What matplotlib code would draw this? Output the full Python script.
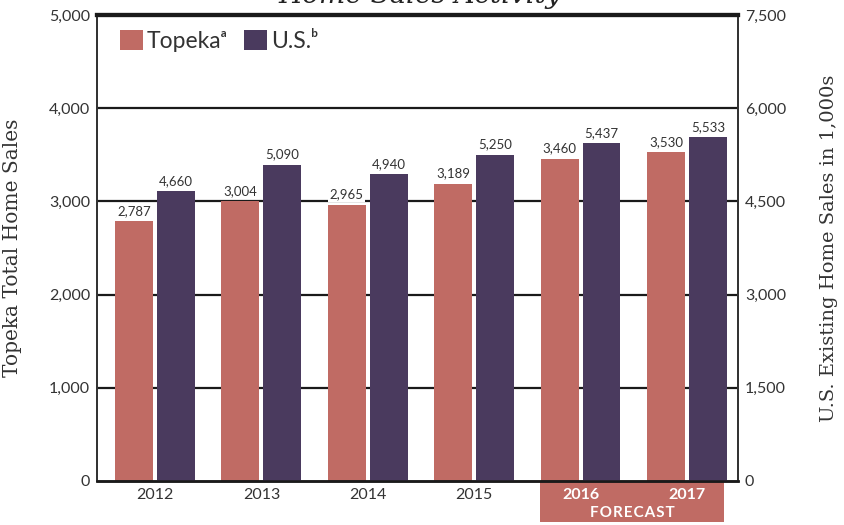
import matplotlib
matplotlib.use("Agg")
import matplotlib.pyplot as plt
from matplotlib.patches import Rectangle, Patch
import numpy as np

years = ["2012", "2013", "2014", "2015", "2016", "2017"]
topeka = [2787, 3004, 2965, 3189, 3460, 3530]
us = [4660, 5090, 4940, 5250, 5437, 5533]
left_ticks = [0, 1000, 2000, 3000, 4000, 5000]
right_ticks = [0, 1500, 3000, 4500, 6000, 7500]
forecast_years = ["2016", "2017"]

C_TOP = "#C06B64"
C_US = "#4A3A5E"
SANS = ["Lato", "DejaVu Sans"]
SERIF = "DejaVu Serif"
TXT = "#333333"

W, H = 845, 525
fig = plt.figure(figsize=(W / 100, H / 100), dpi=100)
fig.patch.set_facecolor("white")

ax_l, ax_r, ax_b, ax_t = 97, 738, 481, 15
ax = fig.add_axes([ax_l / W, 1 - ax_b / H, (ax_r - ax_l) / W, (ax_b - ax_t) / H])
ax2 = ax.twinx()
ax.set_facecolor("none")
ax2.set_facecolor("none")

x = np.arange(len(years))
bw = 0.357
off = 0.197

ax.set_axisbelow(True)
ax.bar(x - off, topeka, width=bw, color=C_TOP, zorder=2)
ax2.bar(x + off, us, width=bw, color=C_US, zorder=2)

ax.set_xlim(-0.545, 5.48)
ax.set_ylim(0, 5000)
ax2.set_ylim(0, 7500)
ax.set_yticks(left_ticks)
ax.set_yticklabels([f"{v:,}" for v in left_ticks])
ax2.set_yticks(right_ticks)
ax2.set_yticklabels([f"{v:,}" for v in right_ticks])

for v in left_ticks[1:-1]:
    ax.axhline(v, color="#1a1a1a", lw=1.6, zorder=1)

for a in (ax, ax2):
    a.tick_params(axis="y", length=0, labelsize=11.5, labelcolor=TXT, pad=5)
    for lab in a.get_yticklabels():
        lab.set_family(SANS)
    a.spines["top"].set_linewidth(3)
    a.spines["top"].set_color("#1a1a1a")
    a.spines["left"].set_linewidth(1.3)
    a.spines["left"].set_color("#333333")
    a.spines["right"].set_linewidth(1.3)
    a.spines["right"].set_color("#333333")
    a.spines["bottom"].set_linewidth(1.8)
    a.spines["bottom"].set_color("#1a1a1a")

ax.set_xticks(x)
ax.set_xticklabels(years)
ax.tick_params(axis="x", length=0, labelsize=11.5, labelcolor=TXT, pad=5)
for lab in ax.get_xticklabels():
    lab.set_family(SANS)
    if lab.get_text() in forecast_years:
        lab.set_color("white")
        lab.set_fontweight("bold")

# value labels
for xi, v in zip(x, topeka):
    ax.annotate(f"{v:,}", (xi - off, v), xytext=(0, 3), textcoords="offset points",
                ha="center", va="bottom", fontsize=9.5, color=TXT, family=SANS,
                bbox=dict(boxstyle="square,pad=0.12", fc="white", ec="none"), zorder=4)
for xi, v in zip(x, us):
    ax2.annotate(f"{v:,}", (xi + off, v), xytext=(0, 3), textcoords="offset points",
                 ha="center", va="bottom", fontsize=9.5, color=TXT, family=SANS,
                 bbox=dict(boxstyle="square,pad=0.12", fc="white", ec="none"), zorder=4)

ax.set_ylabel("Topeka Total Home Sales", family=SERIF, fontsize=14.5, color=TXT)
ax.yaxis.set_label_coords(-(97 - 22) / (ax_r - ax_l), 0.5)
ax2.set_ylabel("U.S. Existing Home Sales in 1,000s", family=SERIF, fontsize=14,
               color=TXT, rotation=90)
ax2.yaxis.set_label_coords(1 + (820 - 738) / (ax_r - ax_l), 0.5)

# legend
handles = [Patch(facecolor=C_TOP), Patch(facecolor=C_US)]
leg = ax2.legend(handles, ["Topeka\u1d43", "U.S.\u1d47"], loc="upper left",
                 bbox_to_anchor=(0.012, 1.0), ncol=2, frameon=False,
                 handlelength=1.0, handleheight=1.0,
                 handletextpad=0.2, columnspacing=0.7, borderaxespad=0.25,
                 prop={"family": SANS, "size": 16.5}, labelcolor=TXT)

# forecast box (behind the year tick labels)
ax.add_patch(Rectangle((540 / W, 1 - 522 / H), (724 - 540) / W, (522 - 482) / H,
                       transform=fig.transFigure, facecolor=C_TOP,
                       edgecolor="none", zorder=0, clip_on=False))
fig.text(632 / W, 1 - 513 / H, "F O R E C A S T".replace(" ", "\u200a"),
         ha="center", va="center", color="white", fontsize=11, fontweight="bold",
         family=SANS, zorder=6)

# title (cut off at top, as in the reference)
fig.text(420 / W, 1 - 3 / H, "Home Sales Activity", ha="center", va="baseline",
         family=SERIF, style="italic", fontsize=20, color="#222222")

fig.savefig("out.png", dpi=100)
